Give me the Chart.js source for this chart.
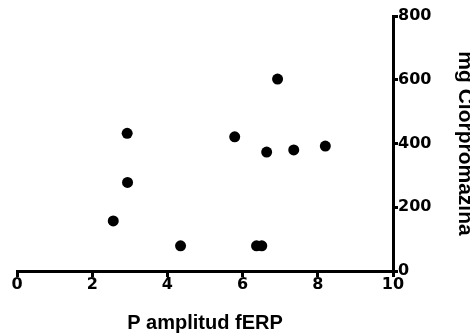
<!DOCTYPE html>
<html lang="es">
<head>
  <meta charset="UTF-8">
  <title>P amplitud fERP vs mg Clorpromazina</title>
  <script src="https://cdn.jsdelivr.net/npm/chart.js"></script>
  <style>
    html, body {
      margin: 0;
      padding: 0;
      background: #ffffff;
    }
    #wrap {
      width: 470px;
      height: 333px;
    }
  </style>
</head>
<body>
  <div id="wrap"><canvas id="grafico" width="470" height="333"></canvas></div>

  <script>
    // valores
    const ampP = [2.56, 2.93, 2.94, 4.35, 5.79, 6.37, 6.51, 6.64, 6.93, 7.36, 8.20];
    const mgCPZ = [157, 432, 278, 79, 421, 79, 79, 373, 602, 380, 392];
    const xTicks = [0, 2, 4, 6, 8, 10];
    const yTicks = [0, 200, 400, 600, 800];

    const puntos = ampP.map((v, i) => ({ x: v, y: mgCPZ[i] }));

    const tickFont = { family: 'DejaVu Sans', size: 16, weight: 'bold' };
    const titleFont = { family: 'Liberation Sans', size: 20, weight: 'bold' };

    new Chart(document.getElementById('grafico').getContext('2d'), {
      type: 'scatter',
      data: {
        datasets: [{
          data: puntos,
          backgroundColor: '#000000',
          borderWidth: 0,
          pointRadius: 5.5,
          pointHoverRadius: 5.5
        }]
      },
      options: {
        responsive: false,
        animation: false,
        layout: { padding: { left: 17, top: 16, right: 0, bottom: 0 } },
        plugins: {
          legend: { display: false },
          tooltip: { enabled: false }
        },
        scales: {
          x: {
            type: 'linear',
            min: 0,
            max: 10,
            afterBuildTicks: s => { s.ticks = xTicks.map(v => ({ value: v })); },
            afterFit: s => { s.height = 62; },
            border: { color: '#000', width: 3 },
            grid: { drawOnChartArea: false, drawTicks: true, tickLength: 6, color: '#000', lineWidth: 3 },
            ticks: { color: '#000', font: tickFont, padding: -2, maxRotation: 0 },
            title: {
              display: true,
              text: 'P amplitud fERP',
              color: '#000',
              font: titleFont,
              padding: { top: 0, bottom: -2 }
            }
          },
          y: {
            type: 'linear',
            position: 'right',
            min: 0,
            max: 800,
            afterBuildTicks: s => { s.ticks = yTicks.map(v => ({ value: v })); },
            afterFit: s => { s.width = 77; },
            border: { color: '#000', width: 3 },
            grid: { drawOnChartArea: false, drawTicks: true, tickLength: 5, color: '#000', lineWidth: 3 },
            ticks: { color: '#000', font: tickFont, padding: 0 },
            title: {
              display: true,
              text: 'mg Clorpromazina',
              color: '#000',
              font: { family: 'Liberation Sans', size: 21, weight: 'bold' },
              padding: { top: -7, bottom: 0 }
            }
          }
        }
      }
    });
  </script>
</body>
</html>
